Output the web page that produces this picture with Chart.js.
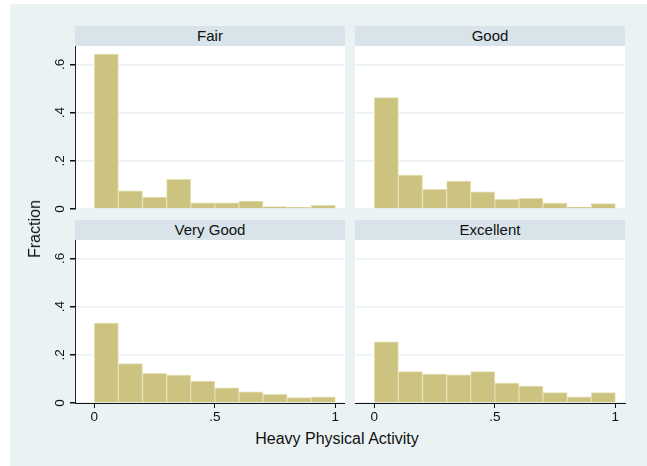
<!DOCTYPE html>
<html>
<head>
<meta charset="utf-8">
<script src="https://cdn.jsdelivr.net/npm/chart.js@4.4.1/dist/chart.umd.min.js"></script>
<style>
  body { margin: 0; background: #fff; font-family: "Liberation Sans", Arial, sans-serif; }
  #wrap { position: relative; width: 647px; height: 466px; overflow: hidden; }
  #bg { position: absolute; left: 10px; top: 4px; width: 637px; height: 462px; background: #EAF2F3; }
  canvas { position: absolute; }
  .head { position: absolute; width: 270px; height: 20px; line-height: 20px; background: #D8E4E9;
          text-align: center; font-size: 15px; color: #111; }
  .title { position: absolute; font-size: 16px; color: #111; white-space: nowrap; }
</style>
</head>
<body>
<div id="wrap">
  <div id="bg"></div>
  <div class="head" style="left:75px;top:26px;">Fair</div>
  <div class="head" style="left:355px;top:26px;">Good</div>
  <div class="head" style="left:75px;top:220px;">Very Good</div>
  <div class="head" style="left:355px;top:220px;">Excellent</div>
  <canvas id="c0" width="305" height="175" style="left:40px;top:40px;"></canvas>
  <canvas id="c1" width="275" height="175" style="left:355px;top:40px;"></canvas>
  <canvas id="c2" width="305" height="194" style="left:40px;top:234px;"></canvas>
  <canvas id="c3" width="275" height="194" style="left:355px;top:234px;"></canvas>
  <div class="title" id="ytitle" style="left:35px;top:229px;transform:translate(-50%,-50%) rotate(-90deg);">Fraction</div>
  <div class="title" style="left:337px;top:439px;transform:translate(-50%,-50%);">Heavy Physical Activity</div>
</div>
<script>
// bin midpoints (bins of width .1 from 0 to 1)
var binMids = [0.05, 0.15, 0.25, 0.35, 0.45, 0.55, 0.65, 0.75, 0.85, 0.95];

var fair      = [0.643, 0.075, 0.049, 0.123, 0.026, 0.026, 0.033, 0.010, 0.007, 0.015];
var good      = [0.462, 0.141, 0.082, 0.116, 0.071, 0.040, 0.044, 0.025, 0.008, 0.022];
var veryGood  = [0.331, 0.164, 0.123, 0.116, 0.091, 0.063, 0.046, 0.036, 0.022, 0.026];
var excellent = [0.254, 0.130, 0.120, 0.117, 0.130, 0.083, 0.070, 0.043, 0.026, 0.043];

var xTickValues = [0, 0.5, 1];
var xTickLabels = ['0', '.5', '1'];
var yTickValues = [0, 0.2, 0.4, 0.6];
var yTickLabels = ['0', '.2', '.4', '.6'];

var panels = [
    { id: 'c0', values: fair,      left: true,  bottom: false },
    { id: 'c1', values: good,      left: false, bottom: false },
    { id: 'c2', values: veryGood,  left: true,  bottom: true },
    { id: 'c3', values: excellent, left: false, bottom: true }
];

var plotBg = {
    id: 'plotBg',
    beforeDraw: function(chart) {
        var a = chart.chartArea, ctx = chart.ctx;
        ctx.save();
        ctx.fillStyle = '#fff';
        ctx.fillRect(a.left, a.top, a.right - a.left, a.bottom - a.top);
        ctx.restore();
    }
};

// Stata style rotated y tick labels
var yLabels = {
    id: 'yLabels',
    afterDraw: function(chart, args, opts) {
        if (!opts.show) return;
        var ctx = chart.ctx, y = chart.scales.y;
        ctx.save();
        ctx.font = '13.5px "Liberation Sans", Arial, sans-serif';
        ctx.fillStyle = '#111';
        ctx.textAlign = 'center';
        ctx.textBaseline = 'middle';
        yTickValues.forEach(function(v, i) {
            ctx.save();
            ctx.translate(chart.chartArea.left - 15, y.getPixelForValue(v));
            ctx.rotate(-Math.PI / 2);
            ctx.fillText(yTickLabels[i], 0, 0);
            ctx.restore();
        });
        ctx.restore();
    }
};

panels.forEach(function(p) {
    var pts = binMids.map(function(m, i) { return { x: m, y: p.values[i] }; });
    new Chart(document.getElementById(p.id), {
        type: 'bar',
        data: {
            datasets: [{
                data: pts,
                backgroundColor: 'rgb(204, 195, 128)',
                borderColor: 'rgb(228, 223, 178)',
                borderWidth: 1,
                borderSkipped: 'bottom',
                barPercentage: 1,
                categoryPercentage: 1
            }]
        },
        options: {
            responsive: false,
            animation: false,
            layout: { padding: { top: 6, bottom: p.bottom ? 0 : 6, left: 0, right: p.left ? 0 : 5 } },
            plugins: {
                legend: { display: false },
                tooltip: { enabled: false },
                yLabels: { show: p.left }
            },
            scales: {
                x: {
                    type: 'linear',
                    min: -0.08,
                    max: 1.04,
                    offset: false,
                    display: p.bottom,
                    afterBuildTicks: function(s) {
                        s.ticks = xTickValues.map(function(v) { return { value: v }; });
                    },
                    afterFit: function(s) {
                        s.height = p.bottom ? 25 : 0;
                        s.paddingLeft = 0; s.paddingRight = 0;
                    },
                    grid: { offset: false, drawOnChartArea: false, tickLength: 5, tickColor: '#111', lineWidth: 1 },
                    border: { display: true, color: '#111', width: 1 },
                    ticks: {
                        padding: 1,
                        color: '#111',
                        maxRotation: 0,
                        font: { family: '"Liberation Sans", Arial, sans-serif', size: 13.5 },
                        callback: function(v) {
                            var i = xTickValues.indexOf(v);
                            return i >= 0 ? xTickLabels[i] : '';
                        }
                    }
                },
                y: {
                    min: 0,
                    max: 0.676,
                    afterBuildTicks: function(s) {
                        s.ticks = yTickValues.map(function(v) { return { value: v }; });
                    },
                    afterFit: function(s) {
                        s.width = p.left ? 35 : 0;
                        s.paddingTop = 0; s.paddingBottom = 0;
                    },
                    grid: {
                        color: '#EAF2F3',
                        lineWidth: 1.5,
                        drawTicks: p.left,
                        tickLength: 5,
                        tickColor: '#111'
                    },
                    border: { display: p.left, color: '#222', width: 1 },
                    ticks: { display: false }
                }
            }
        },
        plugins: [plotBg, yLabels]
    });
});
</script>
</body>
</html>
